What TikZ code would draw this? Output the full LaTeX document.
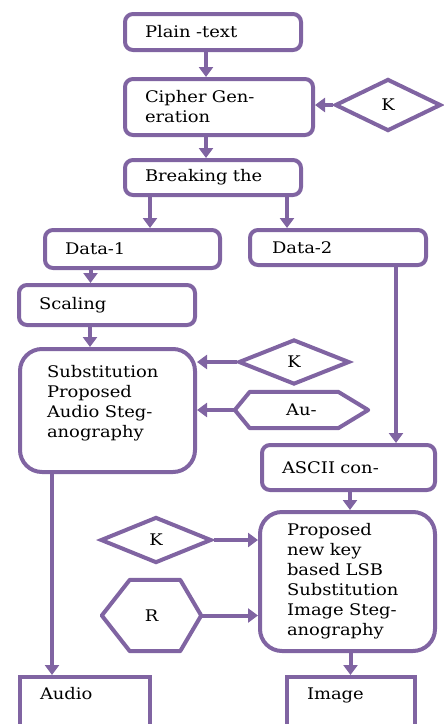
\documentclass[tikz,border=0pt]{standalone}
\usepackage{fontspec}
\setmainfont[FakeStretch=1.12]{DejaVu Serif}
\usetikzlibrary{arrows.meta,shapes.geometric,positioning}
\definecolor{flowpurple}{RGB}{128,100,162}

\begin{document}
\begin{tikzpicture}[x=1pt,y=-1pt,>={Triangle[length=10pt,width=14pt]},
		every node/.style={font=\fontsize{16}{20}\selectfont},
		box/.style={draw=flowpurple,line width=4pt,rounded corners=8pt,
			align=left,inner xsep=20pt,inner ysep=0pt},
		bigbox/.style={box,rounded corners=22pt,inner xsep=27pt},
		endbox/.style={draw=flowpurple,line width=4pt,align=left,anchor=north,
			inner xsep=20pt,inner ysep=10pt,text height=12pt,text depth=50pt},
		kdiamond/.style={diamond,draw=flowpurple,line width=4pt,inner sep=0pt},
		hexnode/.style={inner sep=0pt},
		hexline/.style={draw=flowpurple,line width=4pt,line join=round},
		arr/.style={->,draw=flowpurple,line width=4pt}]
	\clip (0,0) rectangle (444,724);

	\node[box,minimum width=176pt,minimum height=36pt,text width=136pt] (plain) at (213,32) {Plain -text};
	\node[box,minimum width=188pt,minimum height=56pt,text width=148pt] (cipher) at (219,107) {Cipher Gen-\\eration};
	\node[kdiamond,minimum width=106pt,minimum height=52pt] (k1) at (388,105) {K};
	\node[box,minimum width=176pt,minimum height=35pt,text width=136pt] (breaking) at (213,177.5) {Breaking the};
	\node[box,minimum width=175pt,minimum height=38pt,text width=135pt] (data1) at (132.5,249) {Data-1};
	\node[box,minimum width=176pt,minimum height=35pt,text width=132pt,inner xsep=22pt] (data2) at (338,247.5) {Data-2};
	\node[box,minimum width=176pt,minimum height=40pt,text width=136pt] (scaling) at (107,305) {Scaling};
	\node[bigbox,minimum width=175pt,minimum height=123pt,text width=121pt,text depth=78pt] (subst) at (107.5,410.5)
		{Substitution\\Proposed\\Audio Steg-\\anography};
	\node[kdiamond,minimum width=111pt,minimum height=45pt] (k2) at (294,362) {K};
	\node[hexnode,minimum width=133pt,minimum height=36pt] (au) at (301.5,410) {Au-};
	\node[box,minimum width=173pt,minimum height=45pt,text width=133pt] (ascii) at (348.5,467.5) {ASCII con-};
	\node[bigbox,minimum width=175pt,minimum height=139pt,text width=121pt] (prop) at (347.5,581.5)
		{Proposed\\new key\\based LSB\\Substitution\\ Image Steg-\\anography};
	\node[kdiamond,minimum width=111pt,minimum height=46pt] (k3) at (156,540) {K};
	\node[hexnode,minimum width=99pt,minimum height=71pt] (r) at (151.5,615.5) {R};
	\node[endbox,minimum width=130pt,text width=90pt] (audio) at (85,675) {Audio};
	\node[endbox,minimum width=128pt,text width=88pt] (image) at (351,675) {Image};

	% hexagons
	\draw[hexline] (au.west) -- ([xshift=15pt]au.north west) -- ([xshift=-30pt]au.north east)
		-- (au.east) -- ([xshift=-30pt]au.south east) -- ([xshift=15pt]au.south west) -- cycle;
	\draw[hexline] (r.west) -- ([xshift=28pt]r.north west) -- ([xshift=-21pt]r.north east)
		-- (r.east) -- ([xshift=-21pt]r.south east) -- ([xshift=28pt]r.south west) -- cycle;

	\draw[arr] ([xshift=-7pt]plain.south) -- ([xshift=-7pt]plain.south |- cipher.north);
	\draw[arr] (k1.west) -- (k1.west -| cipher.east);
	\draw[arr] ([xshift=-13pt]cipher.south) -- ([xshift=-13pt]cipher.south |- breaking.north);
	\draw[arr] ([xshift=-63pt]breaking.south) -- ([xshift=-63pt]breaking.south |- data1.north);
	\draw[arr] ([xshift=74pt]breaking.south) -- ([xshift=74pt]breaking.south |- data2.north);
	\draw[arr] ([xshift=-42pt]data1.south) -- ([xshift=-42pt]data1.south |- scaling.north);
	\draw[arr] ([xshift=-17pt]scaling.south) -- ([xshift=-17pt]scaling.south |- subst.north);
	\draw[arr] (k2.west) -- (k2.west -| subst.east);
	\draw[arr] (au.west) -- (au.west -| subst.east);
	\draw[arr] ([xshift=58pt]data2.south) -- ([xshift=58pt]data2.south |- ascii.north);
	\draw[arr] ([xshift=1.5pt]ascii.south) -- ([xshift=1.5pt]ascii.south |- prop.north);
	\draw[arr] (k3.east) -- (k3.east -| prop.west);
	\draw[arr] (r.east) -- (r.east -| prop.west);
	\draw[arr] ([xshift=-55.5pt]subst.south) -- ([xshift=-55.5pt]subst.south |- audio.north);
	\draw[arr] ([xshift=3pt]prop.south) -- ([xshift=3pt]prop.south |- image.north);
\end{tikzpicture}
\end{document}
